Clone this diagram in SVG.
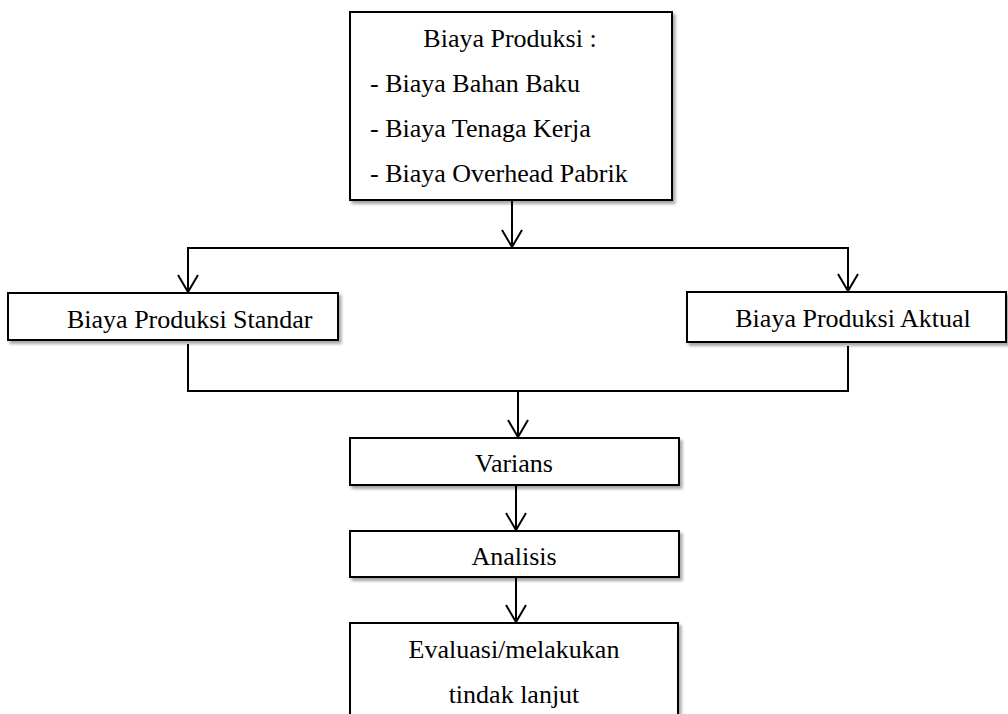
<svg xmlns="http://www.w3.org/2000/svg" width="1008" height="714" viewBox="0 0 1008 714">
<style>
.box{fill:#fff;stroke:#000;stroke-width:2;filter:url(#sh)}
.t{font-family:"Liberation Serif","Times New Roman",serif;font-size:26px;fill:#000}
.c{text-anchor:middle}
.ln{fill:none;stroke:#000;stroke-width:2}
</style>
<defs>
<filter id="sh" x="-5%" y="-10%" width="115%" height="130%">
<feDropShadow dx="2.5" dy="3" stdDeviation="1.8" flood-color="#000" flood-opacity="0.35"/>
</filter>
<marker id="ah" markerUnits="userSpaceOnUse" markerWidth="22" markerHeight="26" viewBox="-20 -13 22 26" refX="0" refY="0" orient="auto" overflow="visible">
<path d="M-17,-10 L0,0 L-17,10" fill="none" stroke="#000" stroke-width="2"/>
</marker>
</defs>
<rect width="1008" height="714" fill="#fff"/>
<g id="connectors">
<line class="ln" x1="512" y1="200" x2="512" y2="247" marker-end="url(#ah)"/>
<line class="ln" x1="187" y1="248" x2="849" y2="248"/>
<line class="ln" x1="188" y1="248" x2="188" y2="292" marker-end="url(#ah)"/>
<line class="ln" x1="848" y1="248" x2="848" y2="291" marker-end="url(#ah)"/>
<line class="ln" x1="188" y1="344" x2="188" y2="391"/>
<line class="ln" x1="848" y1="346" x2="848" y2="391"/>
<line class="ln" x1="187" y1="391" x2="849" y2="391"/>
<line class="ln" x1="518" y1="391" x2="518" y2="437" marker-end="url(#ah)"/>
<line class="ln" x1="516" y1="485" x2="516" y2="530" marker-end="url(#ah)"/>
<line class="ln" x1="516" y1="577" x2="516" y2="622" marker-end="url(#ah)"/>
</g>
<g id="node-biaya-produksi">
<rect class="box" x="350" y="12" width="322" height="188"/>
<text class="t c" x="510" y="47">Biaya Produksi :</text>
<text class="t" x="370" y="92">- Biaya Bahan Baku</text>
<text class="t" x="370" y="137">- Biaya Tenaga Kerja</text>
<text class="t" x="370" y="182">- Biaya Overhead Pabrik</text>
</g>
<g id="node-standar">
<rect class="box" x="8" y="293" width="330" height="47"/>
<text class="t" x="67" y="328">Biaya Produksi Standar</text>
</g>
<g id="node-aktual">
<rect class="box" x="687" y="292" width="319" height="50"/>
<text class="t c" x="853" y="327">Biaya Produksi Aktual</text>
</g>
<g id="node-varians">
<rect class="box" x="350" y="438" width="329" height="47"/>
<text class="t c" x="514" y="472">Varians</text>
</g>
<g id="node-analisis">
<rect class="box" x="350" y="531" width="329" height="46"/>
<text class="t c" x="514" y="565">Analisis</text>
</g>
<g id="node-evaluasi">
<rect class="box" x="350" y="623" width="328" height="100"/>
<text class="t c" x="514" y="658">Evaluasi/melakukan</text>
<text class="t c" x="514" y="703">tindak lanjut</text>
</g>
</svg>
